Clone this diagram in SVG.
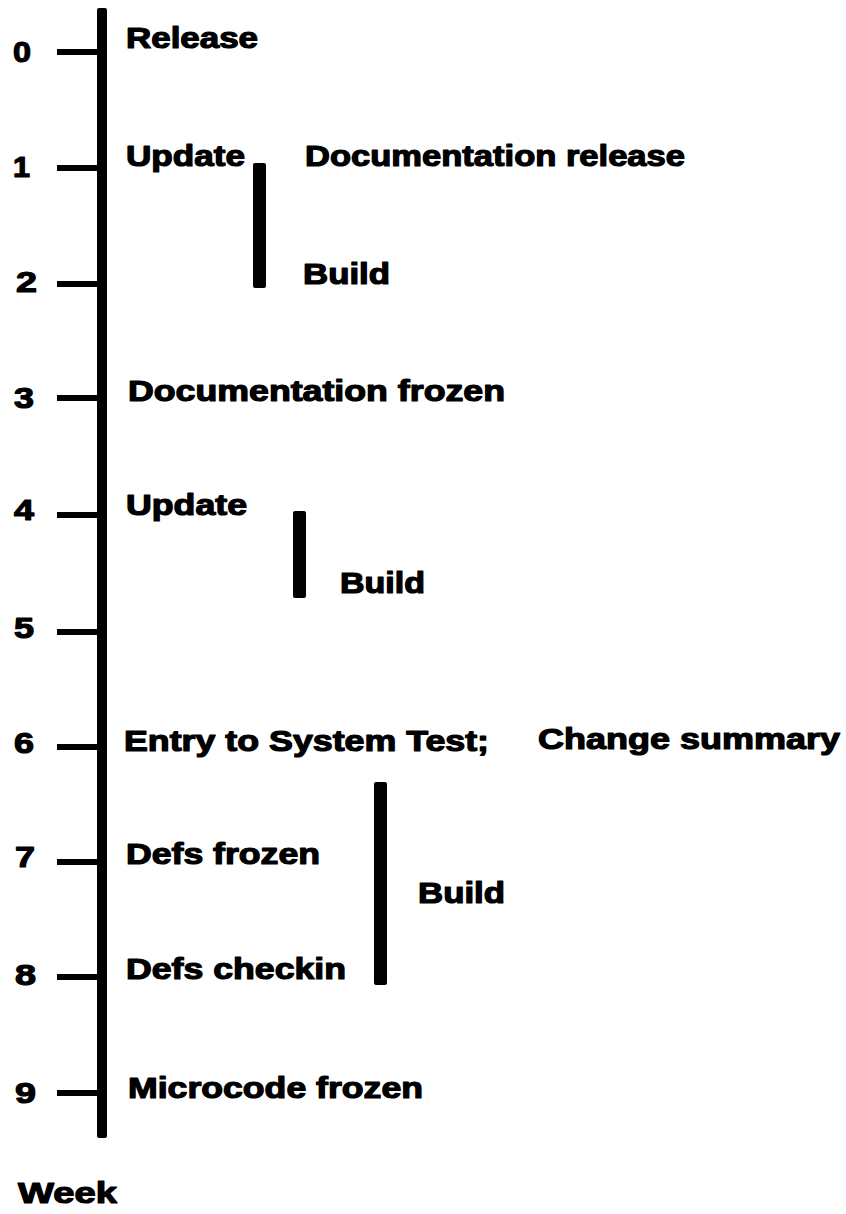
<svg xmlns="http://www.w3.org/2000/svg" width="846" height="1214" viewBox="0 0 846 1214">
<style>
text{font-family:"Liberation Sans",Arial,Helvetica,sans-serif;font-weight:bold;font-size:29px;fill:#000;stroke:#000;stroke-width:1.2px;stroke-linejoin:round}
.num{font-size:30px}
.tick{fill:#000}
.bar{fill:#000}
</style>
<rect width="846" height="1214" fill="#fff"/>
<g id="connectors">
<rect id="axis" x="97" y="8" width="10" height="1130" rx="2" fill="#000"/>
<rect class="tick" x="57" y="49" width="44" height="6"/>
<rect class="tick" x="57" y="165" width="44" height="6"/>
<rect class="tick" x="57" y="281" width="44" height="6"/>
<rect class="tick" x="57" y="395" width="44" height="6"/>
<rect class="tick" x="57" y="512" width="44" height="6"/>
<rect class="tick" x="57" y="629" width="44" height="6"/>
<rect class="tick" x="57" y="744" width="44" height="6"/>
<rect class="tick" x="57" y="859" width="44" height="6"/>
<rect class="tick" x="57" y="974" width="44" height="6"/>
<rect class="tick" x="57" y="1090" width="44" height="6"/>
</g>
<g id="weeks">
<text class="num" x="13" y="62" textLength="18" lengthAdjust="spacingAndGlyphs">0</text>
<text class="num" x="13" y="177" textLength="17" lengthAdjust="spacingAndGlyphs">1</text>
<text class="num" x="16" y="292" textLength="21" lengthAdjust="spacingAndGlyphs">2</text>
<text class="num" x="14" y="408" textLength="20" lengthAdjust="spacingAndGlyphs">3</text>
<text class="num" x="14" y="520" textLength="20" lengthAdjust="spacingAndGlyphs">4</text>
<text class="num" x="14" y="638" textLength="20" lengthAdjust="spacingAndGlyphs">5</text>
<text class="num" x="14" y="753" textLength="20" lengthAdjust="spacingAndGlyphs">6</text>
<text class="num" x="15" y="867" textLength="20" lengthAdjust="spacingAndGlyphs">7</text>
<text class="num" x="15" y="985" textLength="21" lengthAdjust="spacingAndGlyphs">8</text>
<text class="num" x="15" y="1103" textLength="21" lengthAdjust="spacingAndGlyphs">9</text>
</g>
<g id="release"><text x="126" y="48" textLength="132" lengthAdjust="spacingAndGlyphs">Release</text></g>
<g id="update1"><text x="126" y="166" textLength="119" lengthAdjust="spacingAndGlyphs">Update</text></g>
<g id="doc-release"><text x="305" y="166" textLength="380" lengthAdjust="spacingAndGlyphs">Documentation release</text></g>
<g id="build1">
<rect class="bar" x="253" y="163" width="13" height="125" rx="2"/>
<text x="303" y="284" textLength="87" lengthAdjust="spacingAndGlyphs">Build</text>
</g>
<g id="doc-frozen"><text x="128" y="401" textLength="377" lengthAdjust="spacingAndGlyphs">Documentation frozen</text></g>
<g id="update2"><text x="126" y="515" textLength="121" lengthAdjust="spacingAndGlyphs">Update</text></g>
<g id="build2">
<rect class="bar" x="293" y="511" width="13" height="87" rx="2"/>
<text x="340" y="593" textLength="85" lengthAdjust="spacingAndGlyphs">Build</text>
</g>
<g id="entry"><text x="124" y="751" textLength="365" lengthAdjust="spacingAndGlyphs">Entry to System Test;</text></g>
<g id="change-summary"><text x="538" y="749" textLength="302" lengthAdjust="spacingAndGlyphs">Change summary</text></g>
<g id="defs-frozen"><text x="126" y="864" textLength="194" lengthAdjust="spacingAndGlyphs">Defs frozen</text></g>
<g id="build3">
<rect class="bar" x="374" y="782" width="13" height="203" rx="2"/>
<text x="418" y="903" textLength="87" lengthAdjust="spacingAndGlyphs">Build</text>
</g>
<g id="defs-checkin"><text x="126" y="979" textLength="220" lengthAdjust="spacingAndGlyphs">Defs checkin</text></g>
<g id="microcode-frozen"><text x="128" y="1098" textLength="295" lengthAdjust="spacingAndGlyphs">Microcode frozen</text></g>
<g id="week-label"><text x="18" y="1203" textLength="99" lengthAdjust="spacingAndGlyphs">Week</text></g>
</svg>
